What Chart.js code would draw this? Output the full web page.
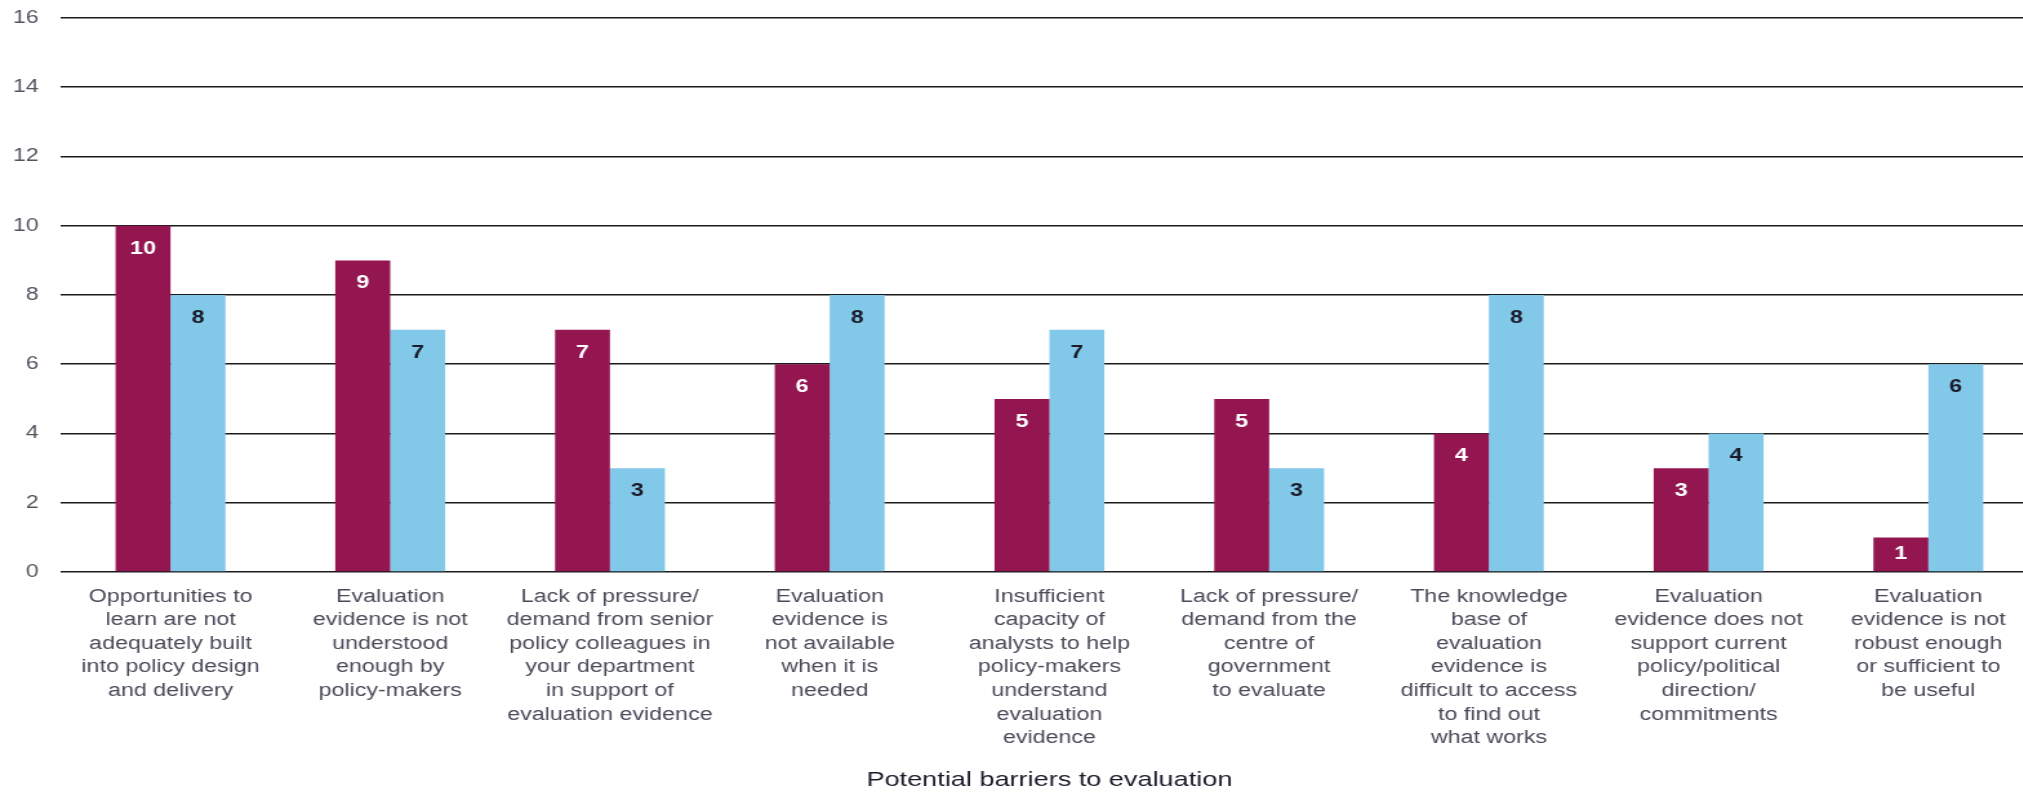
<!DOCTYPE html>
<html>
<head>
<meta charset="utf-8">
<script src="https://cdn.jsdelivr.net/npm/chart.js@4"></script>
<style>
html,body{margin:0;padding:0;background:#fff;overflow:hidden;width:2023px;height:793px;}
#wrap{width:1582px;height:793px;transform:scaleX(1.29);transform-origin:0 0;}
</style>
</head>
<body>
<div id="wrap"><canvas id="c" width="1582" height="793"></canvas></div>
<script>
const categories = [
  ["Opportunities to","learn are not","adequately built","into policy design","and delivery"],
  ["Evaluation","evidence is not","understood","enough by","policy-makers"],
  ["Lack of pressure/","demand from senior","policy colleagues in","your department","in support of","evaluation evidence"],
  ["Evaluation","evidence is","not available","when it is","needed"],
  ["Insufficient","capacity of","analysts to help","policy-makers","understand","evaluation","evidence"],
  ["Lack of pressure/","demand from the","centre of","government","to evaluate"],
  ["The knowledge","base of","evaluation","evidence is","difficult to access","to find out","what works"],
  ["Evaluation","evidence does not","support current","policy/political","direction/","commitments"],
  ["Evaluation","evidence is not","robust enough","or sufficient to","be useful"]
];
const seriesA = [10, 9, 7, 6, 5, 5, 4, 3, 1];
const seriesB = [8, 7, 3, 8, 7, 3, 8, 4, 6];
const yTicks = [0, 2, 4, 6, 8, 10, 12, 14, 16];
const axisTitle = "Potential barriers to evaluation";

const colorA = "#941651";
const colorB = "#82C8E8";
const FONT = "'Liberation Sans', Arial, sans-serif";

const labelPlugin = {
  id: 'barLabels',
  afterDatasetsDraw(chart) {
    const ctx = chart.ctx;
    ctx.save();
    ctx.font = "bold 18px " + FONT;
    ctx.textAlign = "center";
    ctx.textBaseline = "middle";
    chart.data.datasets.forEach((ds, di) => {
      const meta = chart.getDatasetMeta(di);
      meta.data.forEach((el, i) => {
        const h = el.base - el.y;
        const off = Math.min(23, h / 2);
        ctx.fillStyle = di === 0 ? "#ffffff" : "#1b1b2b";
        ctx.fillText(String(ds.data[i]), el.x, el.y + off);
      });
    });
    ctx.restore();
  }
};

new Chart(document.getElementById('c'), {
  type: 'bar',
  data: {
    labels: categories,
    datasets: [
      { label: 'A', data: seriesA, backgroundColor: colorA, borderWidth: 0, categoryPercentage: 0.5, barPercentage: 1.0 },
      { label: 'B', data: seriesB, backgroundColor: colorB, borderWidth: 0, categoryPercentage: 0.5, barPercentage: 1.0 }
    ]
  },
  options: {
    responsive: false,
    animation: false,
    layout: { padding: { top: 18, right: 2, left: 0, bottom: 0 } },
    plugins: { legend: { display: false }, tooltip: { enabled: false } },
    scales: {
      x: {
        grid: { display: false, drawTicks: false },
        border: { display: false },
        ticks: {
          color: "#4a4a5a",
          font: { family: FONT, size: 18, lineHeight: 1.31 },
          padding: 13,
          maxRotation: 0,
          autoSkip: false
        },
        title: {
          display: true,
          text: axisTitle,
          color: "#1b1b2b",
          font: { family: FONT, size: 21 },
          padding: { top: 4, bottom: 0 }
        },
        afterFit(scale) { scale.height = 221; scale.paddingLeft = 0; scale.paddingRight = 0; }
      },
      y: {
        min: 0, max: 16,
        afterBuildTicks(scale) { scale.ticks = yTicks.map(v => ({ value: v })); },
        grid: { color: "#1a1a1a", lineWidth: 1.6, drawTicks: false },
        border: { display: false },
        ticks: {
          color: "#555560",
          font: { family: FONT, size: 18 },
          padding: 17
        },
        afterFit(scale) { scale.width = 47; scale.paddingTop = 0; scale.paddingBottom = 0; }
      }
    }
  },
  plugins: [labelPlugin]
});
</script>
</body>
</html>
